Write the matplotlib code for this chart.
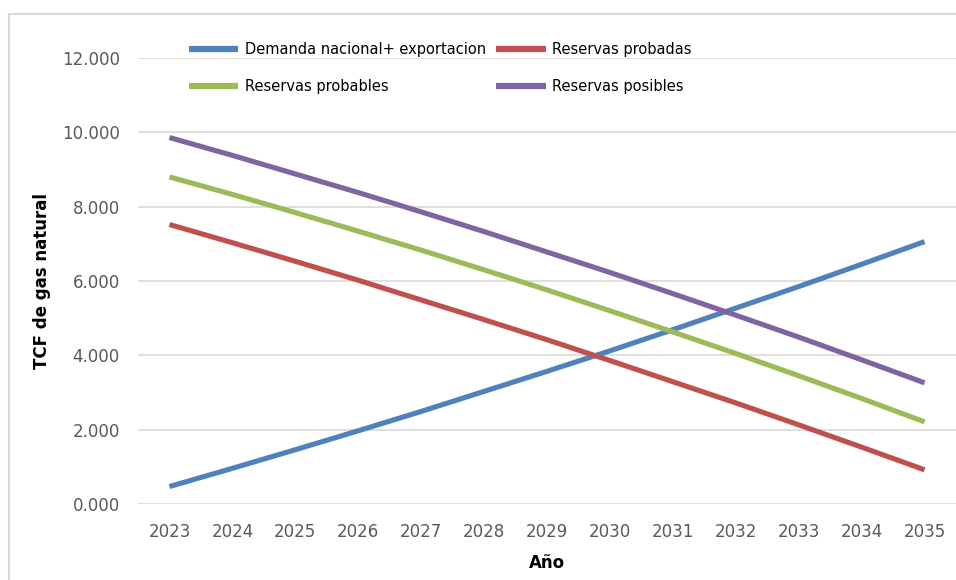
import matplotlib
matplotlib.use("Agg")
import matplotlib.pyplot as plt
from matplotlib.lines import Line2D

years = [2023, 2024, 2025, 2026, 2027, 2028, 2029, 2030, 2031, 2032, 2033, 2034, 2035]
demanda = [0.47, 0.96, 1.46, 1.97, 2.49, 3.03, 3.57, 4.12, 4.69, 5.27, 5.85, 6.45, 7.06]
probadas = [7.52, 7.03, 6.53, 6.02, 5.49, 4.96, 4.42, 3.86, 3.29, 2.72, 2.13, 1.53, 0.92]
probables = [8.80, 8.33, 7.84, 7.34, 6.83, 6.30, 5.76, 5.20, 4.63, 4.05, 3.45, 2.84, 2.21]
posibles = [9.86, 9.38, 8.88, 8.38, 7.86, 7.33, 6.78, 6.23, 5.66, 5.08, 4.49, 3.88, 3.26]
y_ticks = [0, 2, 4, 6, 8, 10, 12]

labels = ["Demanda nacional+ exportacion", "Reservas probadas",
          "Reservas probables", "Reservas posibles"]
colors = ["#4F81BD", "#C0504D", "#9BBB59", "#8064A2"]

W, H = 956, 580
fig = plt.figure(figsize=(W / 100, H / 100), dpi=100)
fig.patch.set_facecolor("white")

ax = fig.add_axes([138 / W, 1 - 504 / H, (956 - 138) / W, (504 - 58) / H])
series = [demanda, probadas, probables, posibles]
handles = []
for vals, col, lab in zip(series, colors, labels):
    h, = ax.plot(years, vals, color=col, lw=3.7, solid_capstyle="butt",
                 solid_joinstyle="round", label=lab, zorder=3)
    handles.append(h)

ax.set_xlim(years[0] - 0.5, years[-1] + 0.5)
ax.set_ylim(0, 12)
ax.set_yticks(y_ticks)
ax.set_yticklabels([f"{v:.3f}" for v in y_ticks])
ax.set_xticks(years)
ax.set_xticklabels([str(y) for y in years])
ax.grid(axis="y", color="#D9D9D9", lw=1.2, zorder=0)
ax.grid(axis="x", visible=False)
for s in ax.spines.values():
    s.set_visible(False)
ax.tick_params(axis="both", length=0, labelcolor="#595959", labelsize=12)
ax.tick_params(axis="x", pad=14)
ax.tick_params(axis="y", pad=13)

ax.set_ylabel("TCF de gas natural", fontsize=12, fontweight="bold", color="black", labelpad=8)
ax.set_xlabel("Año", fontsize=12, fontweight="bold", color="black", labelpad=9)

order = [0, 2, 1, 3]
leg = fig.legend([handles[i] for i in order], [labels[i] for i in order],
                 ncol=2, frameon=False, fontsize=10.5,
                 loc="upper left", bbox_to_anchor=(183 / W, 1 - 36 / H),
                 handlelength=3.4, handletextpad=0.45, columnspacing=0.7,
                 labelspacing=1.55, borderaxespad=0)
for line in leg.get_lines():
    line.set_linewidth(4.5)
for t in leg.get_texts():
    t.set_color("black")

# outer chart border
fig.add_artist(Line2D([9 / W, 9 / W], [0, 1 - 14 / H], color="#D9D9D9", lw=1.5))
fig.add_artist(Line2D([9 / W, 1], [1 - 14 / H, 1 - 14 / H], color="#D9D9D9", lw=1.5))

fig.savefig("out.png", dpi=100)
